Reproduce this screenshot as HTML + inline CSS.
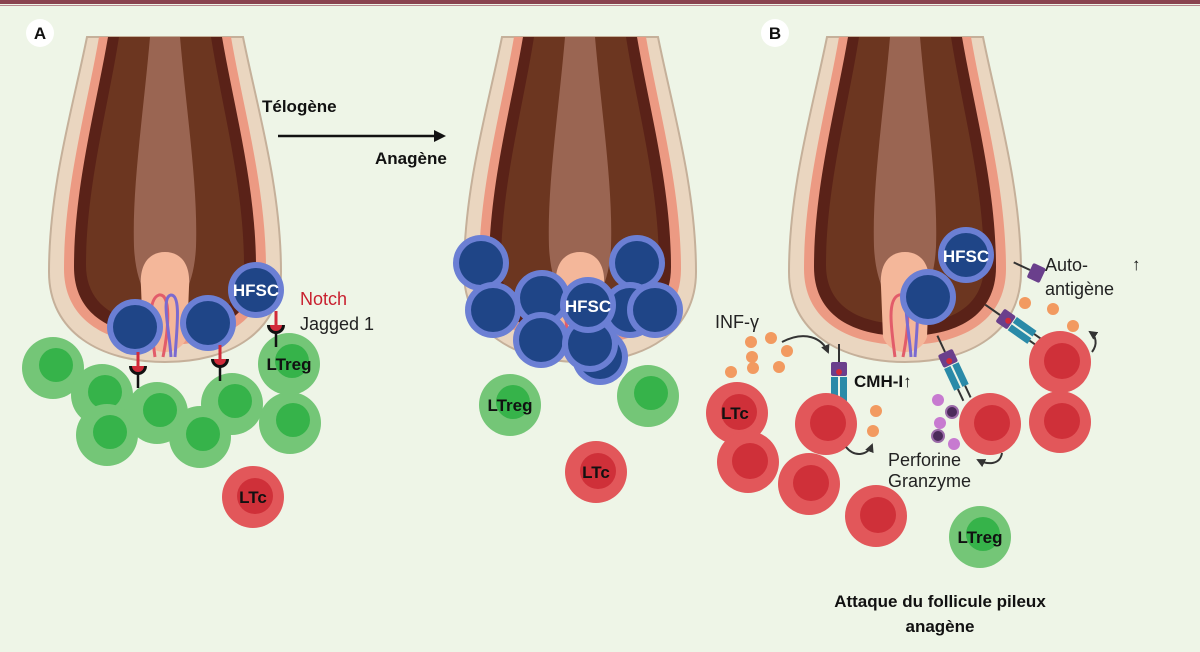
<!DOCTYPE html>
<html><head><meta charset="utf-8"><style>
body{margin:0;background:#eef5e7;}
svg{display:block;}
text{font-family:"Liberation Sans",sans-serif;}
.b{font-weight:bold;font-size:17px;fill:#111;}
.n{font-size:18px;fill:#222;}
</style></head><body>
<svg width="1200" height="652" viewBox="0 0 1200 652" xmlns="http://www.w3.org/2000/svg">
<defs>
<g id="fol">
<path d="M-78,0 C-92,70 -116,150 -116,235 C-116,295 -65,325 0,325 C65,325 116,295 116,235 C116,150 92,70 78,0Z" fill="#ead6c0" stroke="#c5b09a" stroke-width="2"/>
<path d="M-66,0 C-78,70 -101,150 -101,232 C-101,285 -55,308 0,308 C55,308 101,285 101,232 C101,150 78,70 66,0Z" fill="#ec9a83"/>
<path d="M-57,0 C-69,70 -91,150 -91,230 C-91,280 -50,299 0,299 C50,299 91,280 91,230 C91,150 69,70 57,0Z" fill="#5a2218"/>
<path d="M-46,0 C-57,70 -79,150 -79,228 C-79,270 -45,287 0,287 C45,287 79,270 79,228 C79,150 57,70 46,0Z" fill="#6c3620"/>
<path d="M-15,0 C-22,80 -33,150 -31,210 C-29,250 -15,270 0,270 C15,270 29,250 31,210 C33,150 22,80 15,0Z" fill="#9a6552"/>
<path d="M-22,300 L-24,250 C-26,225 -14,215 0,215 C14,215 26,225 24,250 L22,300 C15,320 -15,320 -22,300Z" fill="#f4b79a"/>
<path d="M-10,320 C-14,290 -18,262 -6,258 C6,256 4,290 -2,320" fill="none" stroke="#e25c6a" stroke-width="3"/>
<path d="M6,320 C4,290 -4,260 6,258 C16,258 12,290 10,320" fill="none" stroke="#7a6ad0" stroke-width="3"/>
</g>
<g id="blue"><circle r="28" fill="#6b7fd4"/><circle r="22" fill="#1f4587"/></g>
<g id="green"><circle r="31" fill="#74c677"/><circle r="17" cx="3" cy="-3" fill="#36b34a"/></g>
<g id="red"><circle r="31" fill="#e2575a"/><circle r="18" cx="2" cy="-1" fill="#cf3039"/></g>
<g id="orn"><circle r="6" fill="#f29a60"/></g>
<g id="nj"><line x1="0" y1="0" x2="0" y2="14" stroke="#d12b3a" stroke-width="3"/><path d="M-9,14 A9,9 0 0 0 9,14Z" fill="#111"/><path d="M-6,14 A6,6 0 0 0 6,14Z" fill="#d12b3a"/><line x1="0" y1="22" x2="0" y2="36" stroke="#111" stroke-width="2.5"/></g>
<g id="rec"><line x1="0" y1="-18" x2="0" y2="0" stroke="#333" stroke-width="2"/><rect x="-8" y="0" width="16" height="14" rx="2" fill="#6a3f8c"/><circle cx="0" cy="10" r="3" fill="#d12b3a"/><rect x="-8" y="15" width="7" height="24" fill="#2a8aa8"/><rect x="1" y="15" width="7" height="24" fill="#2a8aa8"/><line x1="-4" y1="39" x2="-4" y2="52" stroke="#333" stroke-width="2"/><line x1="4" y1="39" x2="4" y2="52" stroke="#333" stroke-width="2"/></g>
<marker id="ah" markerUnits="userSpaceOnUse" markerWidth="9" markerHeight="9" refX="7" refY="4.5" orient="auto"><path d="M0,0 L9,4.5 L0,9Z" fill="#333"/></marker>
</defs>
<rect width="1200" height="652" fill="#eef5e7"/>
<rect width="1200" height="4" fill="#8a4350"/>
<rect y="5" width="1200" height="1" fill="#b88890"/>

<circle cx="40" cy="33" r="14" fill="#fff"/><text x="40" y="39" text-anchor="middle" class="b">A</text>
<use href="#fol" x="165" y="37"/>
<use href="#green" x="53" y="368"/><use href="#green" x="102" y="395"/><use href="#green" x="157" y="413"/>
<use href="#green" x="232" y="404"/><use href="#green" x="107" y="435"/><use href="#green" x="200" y="437"/>
<use href="#green" x="290" y="423"/><use href="#green" x="289" y="364"/>
<use href="#blue" x="135" y="327"/><use href="#blue" x="208" y="323"/><use href="#blue" x="256" y="290"/>
<text x="256" y="296" text-anchor="middle" class="b" style="fill:#fff">HFSC</text>
<use href="#nj" x="138" y="352"/><use href="#nj" x="220" y="345"/><use href="#nj" x="276" y="311"/>
<text x="289" y="370" text-anchor="middle" class="b">LTreg</text>
<use href="#red" x="253" y="497"/><text x="253" y="503" text-anchor="middle" class="b">LTc</text>
<text x="300" y="305" class="n" style="fill:#c8202f">Notch</text>
<text x="300" y="330" class="n">Jagged 1</text>
<text x="262" y="112" class="b">Télogène</text>
<line x1="278" y1="136" x2="436" y2="136" stroke="#111" stroke-width="2.5"/><path d="M446,136 L434,130 L434,142Z" fill="#111"/>
<text x="375" y="164" class="b">Anagène</text>

<use href="#fol" x="580" y="37"/>
<use href="#blue" x="481" y="263"/><use href="#blue" x="637" y="263"/><use href="#blue" x="493" y="310"/>
<use href="#blue" x="542" y="298"/><use href="#blue" x="630" y="310"/><use href="#blue" x="600" y="357"/>
<use href="#blue" x="541" y="340"/><use href="#blue" x="590" y="344"/><use href="#blue" x="655" y="310"/>
<use href="#blue" x="588" y="305"/>
<text x="588" y="312" text-anchor="middle" class="b" style="fill:#fff">HFSC</text>
<use href="#green" x="510" y="405"/><text x="510" y="411" text-anchor="middle" class="b">LTreg</text>
<use href="#green" x="648" y="396"/>
<use href="#red" x="596" y="472"/><text x="596" y="478" text-anchor="middle" class="b">LTc</text>

<circle cx="775" cy="33" r="14" fill="#fff"/><text x="775" y="39" text-anchor="middle" class="b">B</text>
<use href="#fol" x="905" y="37"/>
<use href="#blue" x="928" y="297"/><use href="#blue" x="966" y="255"/>
<text x="966" y="262" text-anchor="middle" class="b" style="fill:#fff">HFSC</text>
<use href="#rec" transform="translate(839,362)"/>
<use href="#rec" transform="translate(945,352) rotate(-25)"/>
<use href="#rec" transform="translate(1000,315) rotate(-55)"/>
<g transform="translate(1030,270) rotate(-65)"><line x1="0" y1="-18" x2="0" y2="0" stroke="#333" stroke-width="2"/><rect x="-8" y="0" width="16" height="14" rx="2" fill="#6a3f8c"/></g>
<use href="#red" x="737" y="413"/><text x="735" y="419" text-anchor="middle" class="b">LTc</text>
<use href="#red" x="748" y="462"/><use href="#red" x="809" y="484"/><use href="#red" x="876" y="516"/>
<use href="#red" x="826" y="424"/><use href="#red" x="990" y="424"/><use href="#red" x="1060" y="362"/><use href="#red" x="1060" y="422"/>
<use href="#green" x="980" y="537"/><text x="980" y="543" text-anchor="middle" class="b">LTreg</text>
<use href="#orn" x="751" y="342"/><use href="#orn" x="771" y="338"/><use href="#orn" x="752" y="357"/><use href="#orn" x="787" y="351"/>
<use href="#orn" x="753" y="368"/><use href="#orn" x="779" y="367"/><use href="#orn" x="731" y="372"/>
<use href="#orn" x="876" y="411"/><use href="#orn" x="873" y="431"/>
<use href="#orn" x="1025" y="303"/><use href="#orn" x="1053" y="309"/><use href="#orn" x="1073" y="326"/>
<circle cx="938" cy="400" r="6" fill="#c77ad0"/><circle cx="952" cy="412" r="6" fill="#4b2a5a" stroke="#9a6aa8" stroke-width="2"/>
<circle cx="940" cy="423" r="6" fill="#c77ad0"/><circle cx="938" cy="436" r="6" fill="#4b2a5a" stroke="#9a6aa8" stroke-width="2"/>
<circle cx="954" cy="444" r="6" fill="#c77ad0"/>
<path d="M782,342 C805,330 822,338 828,352" fill="none" stroke="#333" stroke-width="2" marker-end="url(#ah)"/>
<path d="M846,447 C855,458 868,455 872,445" fill="none" stroke="#333" stroke-width="2" marker-end="url(#ah)"/>
<path d="M1002,453 C1000,465 988,465 978,460" fill="none" stroke="#333" stroke-width="2" marker-end="url(#ah)"/>
<path d="M1092,352 C1098,344 1096,336 1090,332" fill="none" stroke="#333" stroke-width="2" marker-end="url(#ah)"/>
<text x="715" y="328" class="n">INF-γ</text>
<text x="854" y="387" class="b">CMH-I↑</text>
<text x="1045" y="271" class="n">Auto-</text>
<text x="1045" y="295" class="n">antigène</text>
<text x="1132" y="270" class="b">↑</text>
<text x="888" y="466" class="n">Perforine</text>
<text x="888" y="487" class="n">Granzyme</text>
<text x="940" y="607" text-anchor="middle" class="b">Attaque du follicule pileux</text>
<text x="940" y="632" text-anchor="middle" class="b">anagène</text>
</svg>
</body></html>
